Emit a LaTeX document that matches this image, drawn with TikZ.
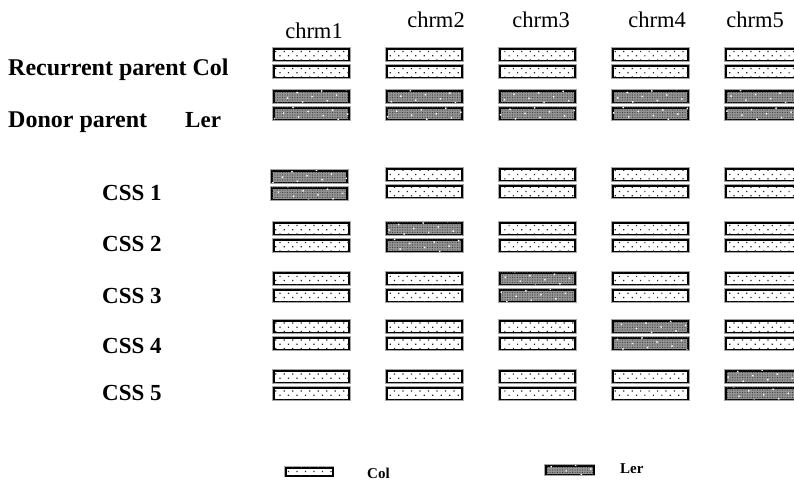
\documentclass[tikz,border=0pt]{standalone}
\usepackage{fontspec}
\setmainfont{Liberation Serif}
\usetikzlibrary{patterns.meta}
\tikzset{
  barbase/.style={draw=black, line width=1.9pt, minimum width=75pt, minimum height=11.5pt, inner sep=0pt, anchor=north west,
    preaction={draw=black!35, line width=3.2pt}},
  colbar/.style={barbase, fill=white, postaction={pattern={Dots[distance=6pt, angle=45, radius=0.85pt]}, pattern color=black!85}},
  lerbar/.style={barbase, fill=black!42, postaction={pattern={Dots[distance=2.5pt, radius=0.6pt]}, pattern color=black!75}, postaction={pattern={Dots[distance=11pt, angle=30, radius=1pt]}, pattern color=white}},
  biglbl/.style={font=\fontsize{23}{26}\selectfont\bfseries, inner sep=0pt, anchor=base west},
  parlbl/.style={biglbl, font=\fontsize{24}{27}\selectfont\bfseries},
  chrlbl/.style={font=\fontsize{22.5}{26}\selectfont, inner sep=0pt, anchor=base},
  leglbl/.style={font=\fontsize{15}{18}\selectfont\bfseries, inner sep=0pt, anchor=base west}
}
\begin{document}
\begin{tikzpicture}[x=1pt, y=-1pt]
\clip (0,0) rectangle (794,480);
\fill[white] (0,0) rectangle (794,480);
% column headers
\node[chrlbl] (h1) at (314,38) {chrm1};
\node[chrlbl] (h2) at (436,27) {chrm2};
\node[chrlbl] (h3) at (541,27) {chrm3};
\node[chrlbl] (h4) at (657,27) {chrm4};
\node[chrlbl] (h5) at (755,27) {chrm5};
% parent labels
\node[parlbl] (rp) at (8,75) {Recurrent parent Col};
\node[parlbl] (dp) at (8,127) {Donor parent};
\node[biglbl] (dl) at (185,127) {Ler};
% parents
\foreach \c/\x in {1/273,2/386,3/499,4/612,5/725} {
  \node[colbar] (pc\c a) at (\x,48) {};
  \node[colbar] (pc\c b) at (\x,65) {};
  \node[lerbar] (pl\c a) at (\x,90) {};
  \node[lerbar] (pl\c b) at (\x,107) {};
}
% CSS lines
\foreach \r/\y/\yl in {1/168/200, 2/222/251, 3/272/303, 4/320/353, 5/370/400} {
  \node[biglbl] (css\r) at (102,\yl) {CSS \r};
  \foreach \c/\x in {1/273,2/386,3/499,4/612,5/725} {
    \ifnum\c=\r \def\sty{lerbar}\else\def\sty{colbar}\fi
    \ifnum\c=1 \ifnum\r=1 \def\dx{-2}\def\dy{2}\else\def\dx{0}\def\dy{0}\fi\else\def\dx{0}\def\dy{0}\fi
    \node[\sty] (s\r c\c a) at (\x+\dx,\y+\dy) {};
    \node[\sty] (s\r c\c b) at (\x+\dx,\y+\dy+17) {};
  }
}
% legend
\node[colbar, minimum width=47pt, minimum height=8pt, line width=1.5pt] (legcol) at (285,467) {};
\node[leglbl] (legcolt) at (367,478) {Col};
\node[lerbar, minimum width=48pt, minimum height=8.5pt, line width=1.5pt] (legler) at (545,465) {};
\node[leglbl] (leglert) at (620,473) {Ler};
\end{tikzpicture}
\end{document}
